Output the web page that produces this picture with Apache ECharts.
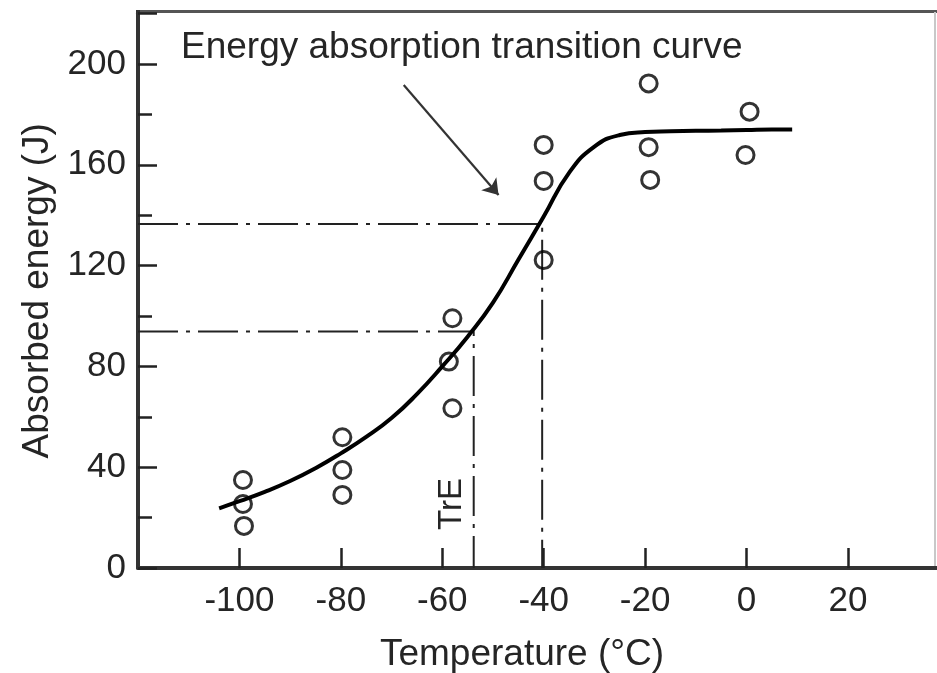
<!DOCTYPE html>
<html><head><meta charset="utf-8">
<script src="https://cdn.jsdelivr.net/npm/echarts@6/dist/echarts.min.js"></script>
<style>html,body{margin:0;padding:0;background:#fff}#c{width:937px;height:673px}</style>
</head><body><div id="c"></div>
<script>
// Measured data points (Temperature °C, Absorbed energy J)
const scatterTemp   = [-99.3, -99.3, -99.1, -79.7, -79.7, -79.7, -58.0, -58.7, -58.0, -40.0, -40.0, -40.0, -19.3, -19.3, -19.0, 0.6, -0.2];
const scatterEnergy = [34.9, 25.4, 16.7, 51.9, 38.9, 29.0, 99.1, 81.9, 63.4, 167.9, 153.6, 122.2, 192.3, 167.0, 154.0, 181.1, 163.9];
// Energy absorption transition curve
const curveTemp   = [-104, -100, -95, -90, -85, -80, -75, -70, -65, -60, -55, -50, -45, -40, -35, -30, -25, -20, -15, -10, -5, 0, 5, 9];
const curveEnergy = [23.7, 26.5, 30.2, 34.5, 39.6, 45.5, 52.0, 59.5, 69.0, 80.0, 91.8, 105.3, 122.3, 139.5, 156.8, 167.2, 171.8, 173.0, 173.3, 173.5, 173.6, 173.8, 174.0, 174.0];
// Dash-dot reference lines (transition temperatures and energies)
const refTemp   = [-53.8, -40.3];
const refEnergy = [93.8, 136.5];
// Arrow of the annotation
const arrowTemp   = [-67.6, -48.9];
const arrowEnergy = [191.7, 148.0];
// Axis ranges
const xMin = -120, xMax = 37.56, xStep = 20;
const yMin = 0, yMax = 220, yStep = 40, yMinorStep = 20;

const FONT = "'Liberation Sans', Arial, sans-serif";
const TXT = '#252525';

const chart = echarts.init(document.getElementById('c'), null, {renderer: 'canvas'});

const refSeries = refTemp.map((t, i) => ({
  type: 'line', silent: true, symbol: 'none', animation: false,
  data: [[xMin, refEnergy[i]], [t, refEnergy[i]], [t, yMin]],
  lineStyle: {color: '#222', width: 2, type: [40, 8, 4, 8]},
  z: 2
}));

const option = {
  animation: false,
  backgroundColor: '#fff',
  grid: {left: 138, top: 13.6, right: 0, height: 554.4, containLabel: false},
  xAxis: [{
    type: 'value', min: xMin, max: xMax, interval: xStep,
    axisLine: {show: true, onZero: false, lineStyle: {color: '#333', width: 4}},
    axisTick: {show: true, inside: true, length: 20, lineStyle: {color: '#222', width: 2.5}},
    axisLabel: {show: true, showMinLabel: false, showMaxLabel: false, fontSize: 35, color: TXT, fontFamily: FONT, margin: 16},
    splitLine: {show: false}
  }],
  yAxis: [{
    type: 'value', min: yMin, max: yMax, interval: yMinorStep,
    axisLine: {show: true, onZero: false, lineStyle: {color: '#333', width: 4}},
    axisTick: {show: true, inside: true, length: 14, lineStyle: {color: '#222', width: 2.5}},
    axisLabel: {show: true, fontSize: 35, color: TXT, fontFamily: FONT, margin: 12,
      formatter: v => (v % yStep === 0 && v < yMax) ? String(v) : ''},
    splitLine: {show: false},
    name: 'Absorbed energy (J)', nameLocation: 'middle', nameGap: 80,
    nameTextStyle: {fontSize: 37, color: TXT, fontFamily: FONT}
  }, {
    type: 'value', min: yMin, max: yMax, interval: yStep, position: 'left',
    axisLine: {show: false, onZero: false},
    axisTick: {show: true, inside: true, length: 19, lineStyle: {color: '#222', width: 2.5}},
    axisLabel: {show: false}, splitLine: {show: false}
  }],
  series: [
    ...refSeries,
    {
      type: 'line', name: 'curve', smooth: 0.5, symbol: 'none',
      data: curveTemp.map((t, i) => [t, curveEnergy[i]]),
      lineStyle: {color: '#000', width: 4}, z: 3
    },
    {
      type: 'scatter', name: 'data', symbol: 'circle', symbolSize: 17,
      data: scatterTemp.map((t, i) => [t, scatterEnergy[i]]),
      itemStyle: {color: 'rgba(255,255,255,0)', borderColor: '#000', borderWidth: 3}, z: 4
    },
    {
      type: 'lines', coordinateSystem: 'cartesian2d', silent: true,
      symbol: ['none', 'arrow'], symbolSize: 15,
      data: [{coords: [[arrowTemp[0], arrowEnergy[0]], [arrowTemp[1], arrowEnergy[1]]]}],
      lineStyle: {color: '#333', width: 2.2, opacity: 1, curveness: 0}, z: 5
    }
  ],
  graphic: [
    {type: 'line', shape: {x1: 136, y1: 11.5, x2: 937, y2: 11.5}, style: {stroke: '#555', lineWidth: 3}, silent: true},
    {type: 'line', shape: {x1: 138, y1: 10, x2: 138, y2: 16}, style: {stroke: '#333', lineWidth: 4}, silent: true},
    {type: 'line', shape: {x1: 935, y1: 12, x2: 935, y2: 568}, style: {stroke: '#c8c8c8', lineWidth: 2}, silent: true},
    {type: 'text', x: 181, y: 48, silent: true,
      style: {text: 'Energy absorption transition curve', fontSize: 37, fontFamily: FONT, fill: TXT,
        textAlign: 'left', textVerticalAlign: 'middle', align: 'left', verticalAlign: 'middle'}},
    {type: 'text', x: 522, y: 655, silent: true,
      style: {text: 'Temperature (°C)', fontSize: 37, fontFamily: FONT, fill: TXT,
        textAlign: 'center', textVerticalAlign: 'middle', align: 'center', verticalAlign: 'middle'}},
    {type: 'text', x: 452, y: 504, rotation: Math.PI / 2, silent: true,
      style: {text: 'TrE', fontSize: 33, fontFamily: FONT, fill: TXT,
        textAlign: 'center', textVerticalAlign: 'middle', align: 'center', verticalAlign: 'middle'}}
  ]
};
chart.setOption(option);
</script>
</body></html>
